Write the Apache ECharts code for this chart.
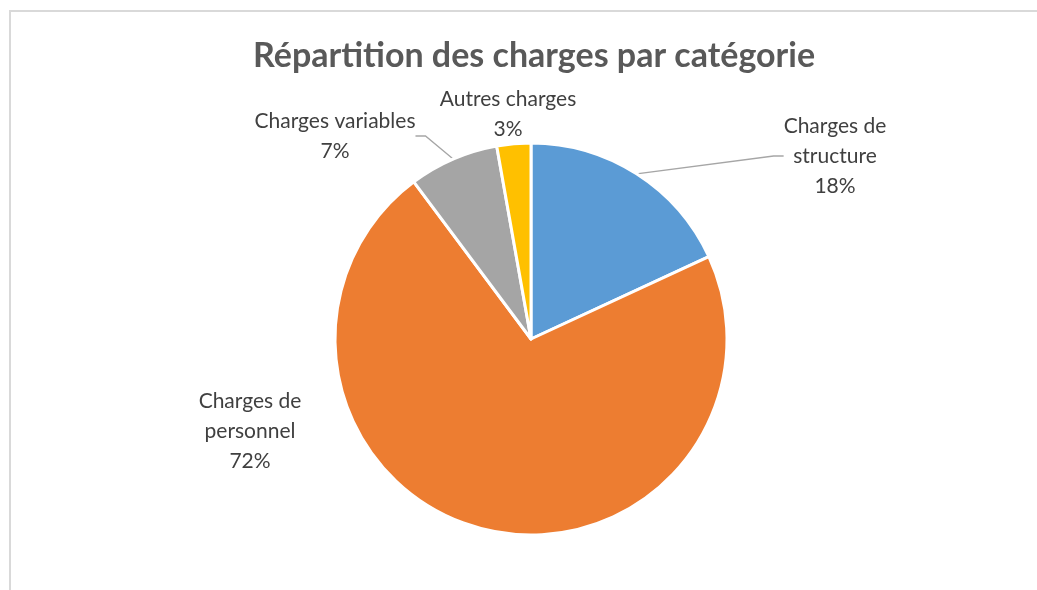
<!DOCTYPE html>
<html>
<head>
<meta charset="utf-8">
<script src="https://cdn.jsdelivr.net/npm/echarts@6/dist/echarts.min.js"></script>
<style>
  html, body { margin: 0; padding: 0; background: #fff; overflow: hidden; }
  #frame { position: absolute; left: 9px; top: 10px; width: 1200px; height: 800px;
           border-top: 2px solid #d9d9d9; border-left: 2px solid #d9d9d9; }
  #chart { position: absolute; left: 0; top: 0; width: 1037px; height: 590px; }
</style>
</head>
<body>
<div id="frame"></div>
<div id="chart"></div>
<script>
const categories = ['Charges de structure', 'Charges de personnel', 'Charges variables', 'Autres charges'];
const values = [18.1, 71.7, 7.4, 2.8];
const colors = ['#5b9bd5', '#ed7d31', '#a5a5a5', '#ffc000'];
const labelTexts = ['Charges de\nstructure', 'Charges de\npersonnel', 'Charges variables', 'Autres charges'];

// where Excel put each label (center of the text block)
const labelSpots = [[835, 156], [250, 431], [335, 136], [508, 114]];
const showLine = [true, false, true, false];

var chartDom = document.getElementById('chart');
var myChart = echarts.init(chartDom);

const data = categories.map((name, i) => ({
    name: name,
    value: values[i],
    itemStyle: {color: colors[i]},
    labelLine: {show: showLine[i]}
}));

var option = {
    animation: false,
    title: {
        text: 'Répartition des charges par catégorie',
        left: 248,
        top: 34,
        textStyle: {
            fontFamily: 'Lato',
            fontSize: 34,
            fontWeight: 'bold',
            color: '#595959'
        }
    },
    series: [
        {
            type: 'pie',
            center: [531, 339],
            radius: 196,
            startAngle: 90,
            clockwise: true,
            percentPrecision: 0,
            itemStyle: {
                borderColor: '#fff',
                borderWidth: 3
            },
            label: {
                show: true,
                position: 'outside',
                fontFamily: 'Lato',
                fontSize: 21,
                lineHeight: 30,
                color: '#404040',
                align: 'center',
                formatter: p => labelTexts[p.dataIndex] + '\n' + p.percent + '%'
            },
            labelLine: {
                lineStyle: {color: '#a6a6a6', width: 1.3},
                length: 10,
                length2: 10
            },
            labelLayout: p => ({
                x: labelSpots[p.dataIndex][0],
                y: labelSpots[p.dataIndex][1],
                align: 'center',
                verticalAlign: 'middle'
            }),
            data: data
        }
    ]
};
myChart.setOption(option);
</script>
</body>
</html>
